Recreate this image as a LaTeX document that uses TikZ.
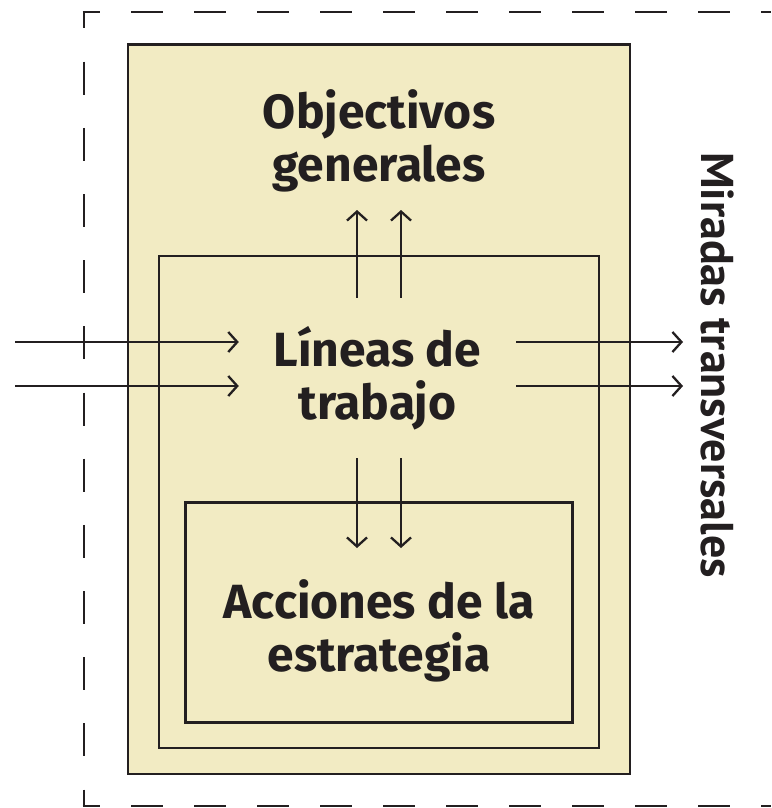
\documentclass[tikz,border=0pt]{standalone}
\usepackage{fontspec}
\setmainfont{Fira Sans}
\newfontfamily\sidefont{PT Sans}
\usetikzlibrary{arrows.meta}
\definecolor{pInk}{RGB}{35,31,32}
\definecolor{pBeige}{RGB}{242,235,195}
\tikzset{
    frame/.style={rectangle, draw=pInk, fill=pBeige, line width=2.6pt, inner sep=0pt},
    caption/.style={align=center, text=pInk, inner sep=0pt, font=\bfseries\fontsize{48}{53}\selectfont},
    core/.style={rectangle, inner sep=0pt, minimum width=277pt, minimum height=160pt},
    arr/.style={draw=pInk, line width=2.3pt, -{Straight Barb[length=9pt,width=20pt]}},
    border/.style={draw=pInk, line width=2.8pt}
}

\begin{document}
\begin{tikzpicture}[x=1pt,y=-1pt]
\useasboundingbox (0,0) rectangle (771,808);
% dashed frame, open on the right
\draw[border, dash pattern=on 33pt off 33.17pt, dash phase=16.5pt] (84,12) -- (84,806);
\draw[border, dash pattern=on 32pt off 31pt, dash phase=14.5pt] (82.6,12) -- (771,12);
\draw[border, dash pattern=on 32pt off 31pt, dash phase=14.5pt] (82.6,806) -- (771,806);
% nested boxes
\node[frame, minimum width=502pt, minimum height=729.5pt] (outer) at (379,409.25) {};
\node[frame, minimum width=440pt, minimum height=492pt] (middle) at (379,502) {};
\node[frame, minimum width=387pt, minimum height=220pt] (inner) at (379.2,612.7) {};
% texts
\node[caption] (obj) at (379,141) {Objectivos\\generales};
\node[caption, core] (lin) at (377.5,378) {Líneas de\\trabajo};
\node[caption] (acc) at (379,631) {Acciones de la\\estrategia};
\node[text=pInk, rotate=-90, inner sep=0pt, font=\sidefont\bfseries\fontsize{46}{50}\selectfont] (side) at (718,365) {Miradas transversales};
% arrow ends
\coordinate (inA) at (15,342);
\coordinate (inB) at (15,386);
\coordinate (outA) at (683,342);
\coordinate (outB) at (683,386);
\coordinate (upA) at (357,210);
\coordinate (upB) at (401,210);
\coordinate (dnA) at (357,548);
\coordinate (dnB) at (401,548);
% arrows
\draw[arr] (inA) -- (inA -| lin.west);
\draw[arr] (inB) -- (inB -| lin.west);
\draw[arr] (outA -| lin.east) -- (outA);
\draw[arr] (outB -| lin.east) -- (outB);
\draw[arr] (upA |- lin.north) -- (upA);
\draw[arr] (upB |- lin.north) -- (upB);
\draw[arr] (dnA |- lin.south) -- (dnA);
\draw[arr] (dnB |- lin.south) -- (dnB);
\end{tikzpicture}
\end{document}
